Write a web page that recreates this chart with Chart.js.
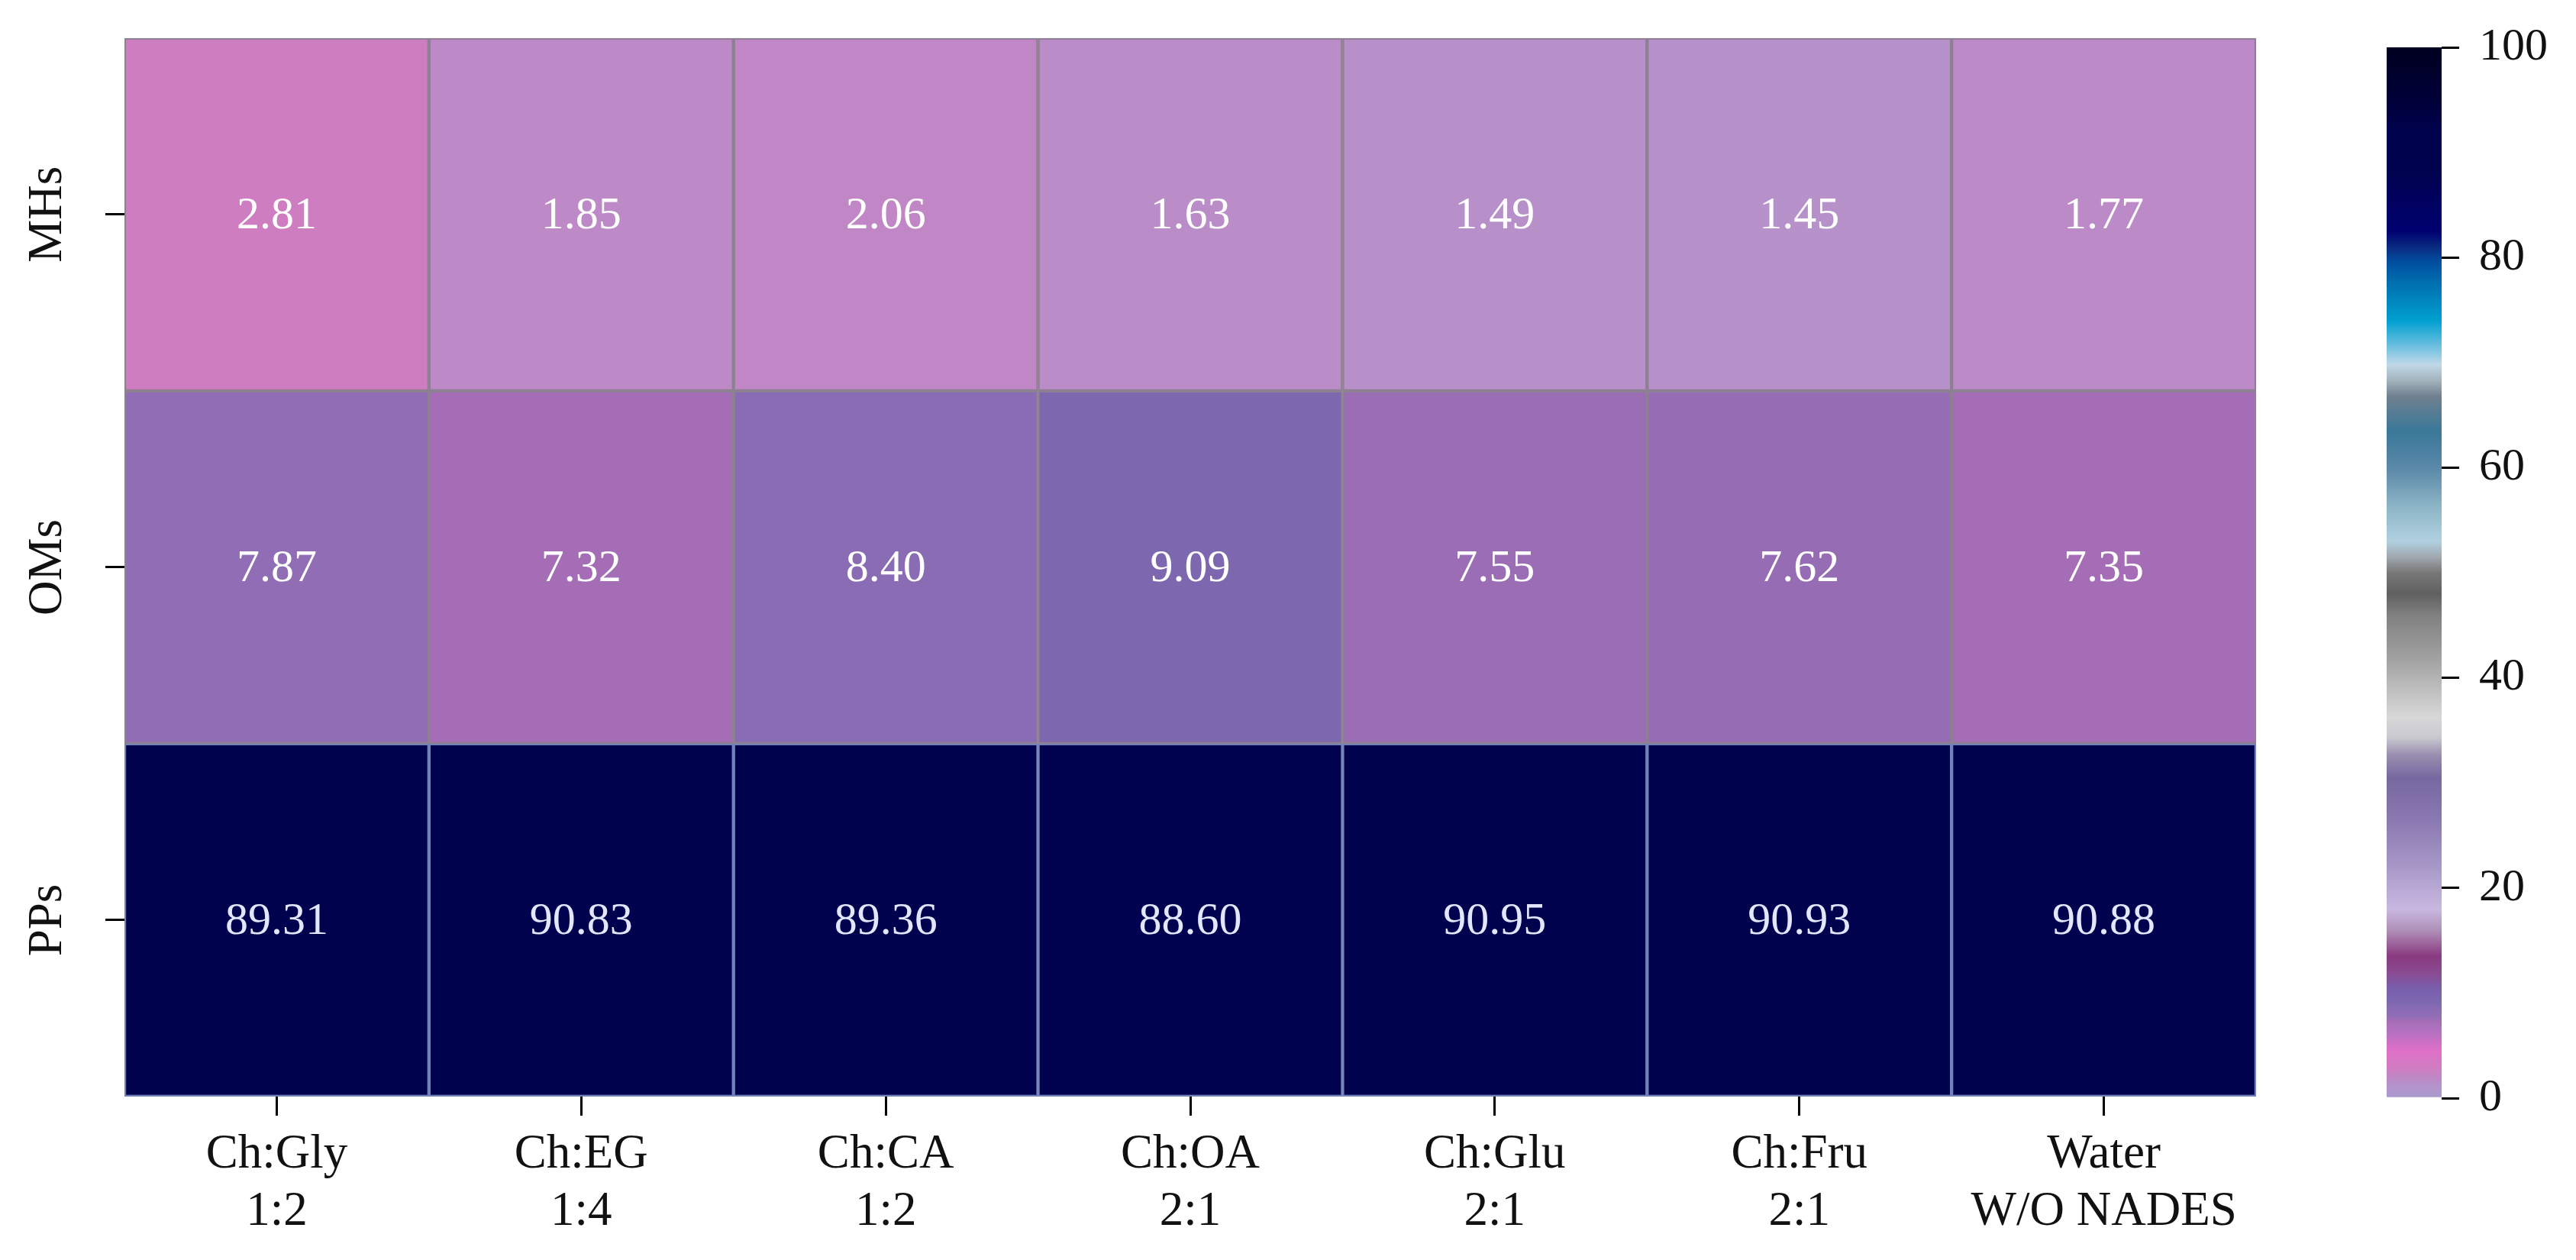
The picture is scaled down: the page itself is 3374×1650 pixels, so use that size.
<!DOCTYPE html>
<html>
<head>
<meta charset="utf-8">
<script src="https://cdn.jsdelivr.net/npm/chart.js@4.4.1/dist/chart.umd.min.js"></script>
<style>
  html, body { margin: 0; padding: 0; background: #fff; }
  #wrap { position: relative; width: 3374px; height: 1650px; overflow: hidden; }
  #heat { position: absolute; left: 0; top: 0; }
  #cbar { position: absolute; left: 3126px; top: 0; }
</style>
</head>
<body>
<div id="wrap">
  <canvas id="heat" width="3000" height="1650"></canvas>
  <canvas id="cbar" width="248" height="1650"></canvas>
</div>
<script>
// data
const columnLabels = [
  ['Ch:Gly', '1:2'], ['Ch:EG', '1:4'], ['Ch:CA', '1:2'], ['Ch:OA', '2:1'],
  ['Ch:Glu', '2:1'], ['Ch:Fru', '2:1'], ['Water', 'W/O NADES']
];
const rowLabels = ['MHs', 'OMs', 'PPs'];
const mhsValues = [2.81, 1.85, 2.06, 1.63, 1.49, 1.45, 1.77];
const omsValues = [7.87, 7.32, 8.40, 9.09, 7.55, 7.62, 7.35];
const ppsValues = [89.31, 90.83, 89.36, 88.60, 90.95, 90.93, 90.88];
const cbarTicks = [0, 20, 40, 60, 80, 100];

const rows = [mhsValues, omsValues, ppsValues];
const serif = '"Liberation Serif", "Times New Roman", serif';

// colour map (value -> colour) approximating the one in the figure
const cmapStops = [
  [0, '#a99bd0'], [1.45, '#b791c9'], [1.8, '#bc89c7'], [2.1, '#c286c5'],
  [2.8, '#cf7dc1'], [4.5, '#e070c8'], [6.5, '#b070c0'], [7.3, '#a66db6'],
  [7.6, '#976db5'], [7.9, '#8f6db5'], [8.4, '#8a6cb5'], [9.1, '#7d68b0'],
  [10.5, '#7a5eac'], [12, '#8a4a90'], [13.5, '#8a3a80'], [16, '#b090b8'],
  [18, '#c8b8e0'], [22, '#a898c8'], [26.5, '#8a78b0'], [30.5, '#7868a0'],
  [32.7, '#9a8fb0'], [34.3, '#c8c8d0'], [36.2, '#d8d8d8'], [42, '#a0a0a0'],
  [46, '#808080'], [48, '#606060'], [50, '#787878'], [51.5, '#a0a8b0'],
  [53, '#b0d0e0'], [56, '#90b8c8'], [60, '#5a88a8'], [63.5, '#3a7898'],
  [66.8, '#708090'], [68.2, '#a0b0b8'], [69.8, '#c0d8e8'], [71.5, '#70c0e0'],
  [74, '#00a0d0'], [77.5, '#0070b0'], [79.5, '#0050a0'], [81, '#0a2a80'],
  [82.5, '#000070'], [88, '#01024f'], [92, '#01024d'], [95, '#000038'], [100, '#000020']
];

const hexRgb = h => [1, 3, 5].map(i => parseInt(h.slice(i, i + 2), 16));

const cmap = v => {
  for (let i = 1; i < cmapStops.length; i++) {
    const [v1, c1] = cmapStops[i];
    const [v0, c0] = cmapStops[i - 1];
    if (v <= v1) {
      const t = (v - v0) / (v1 - v0);
      const a = hexRgb(c0), b = hexRgb(c1);
      const m = a.map((x, k) => Math.round(x + (b[k] - x) * t));
      return 'rgb(' + m.join(',') + ')';
    }
  }
  return cmapStops[cmapStops.length - 1][1];
};

const cellText = {
  id: 'cellText',
  afterDatasetsDraw(chart) {
    const ctx = chart.ctx;
    ctx.save();
    ctx.font = '60px ' + serif;
    ctx.textAlign = 'center';
    ctx.textBaseline = 'middle';
    chart.data.datasets.forEach((ds, r) => {
      chart.getDatasetMeta(r).data.forEach((bar, c) => {
        const p = bar.getCenterPoint();
        ctx.fillStyle = r === 2 ? '#e2e7ff' : '#ffffff';
        ctx.fillText(rows[r][c].toFixed(2), p.x, p.y + 2);
      });
    });
    ctx.restore();
  }
};

const Chart_heat = () => {
  new Chart(document.getElementById('heat'), {
    type: 'bar',
    data: {
      labels: columnLabels,
      datasets: rows.map((vals, r) => ({
        label: rowLabels[r],
        data: vals.map(() => [r, r + 1]),
        backgroundColor: vals.map(cmap),
        borderColor: r === 2 ? '#7282b8' : '#8c8092',
        borderWidth: 2.5,
        borderSkipped: false,
        grouped: false,
        barPercentage: 1,
        categoryPercentage: 1
      }))
    },
    options: {
      responsive: false,
      animation: false,
      devicePixelRatio: 1,
      layout: { padding: { top: 49, right: 45, left: 0, bottom: 0 } },
      plugins: { legend: { display: false }, tooltip: { enabled: false } },
      scales: {
        x: {
          type: 'category',
          offset: true,
          border: { display: false },
          grid: { display: true, offset: false, drawOnChartArea: false, drawTicks: true, tickLength: 25, color: '#000', lineWidth: 3 },
          ticks: { color: '#111', font: { family: serif, size: 63, lineHeight: 1.19 }, padding: 14, maxRotation: 0, minRotation: 0 },
          afterFit: s => { s.height = 214; }
        },
        y: {
          type: 'linear',
          min: 0,
          max: 3,
          reverse: true,
          border: { display: false },
          afterBuildTicks: s => { s.ticks = rowLabels.map((_, i) => ({ value: i + 0.5 })); },
          grid: { display: true, drawOnChartArea: false, drawTicks: true, tickLength: 25, color: '#000', lineWidth: 3 },
          ticks: {
            color: '#111',
            font: { family: serif, size: 63 },
            minRotation: 90,
            maxRotation: 90,
            crossAlign: 'center',
            padding: 12,
            callback: (v, i) => rowLabels[i]
          },
          afterFit: s => { s.width = 163; }
        }
      }
    },
    plugins: [cellText]
  });
};

const Chart_cbar = () => {
  new Chart(document.getElementById('cbar'), {
    type: 'bar',
    data: {
      labels: [''],
      datasets: [{
        data: [[0, 100]],
        barPercentage: 1,
        categoryPercentage: 1,
        borderWidth: 0,
        backgroundColor: context => {
          const chart = context.chart;
          const y = chart.scales.y;
          if (!chart.chartArea || !y) return '#888';
          const g = chart.ctx.createLinearGradient(0, y.getPixelForValue(0), 0, y.getPixelForValue(100));
          cmapStops.forEach(([v, c]) => g.addColorStop(v / 100, c));
          return g;
        }
      }]
    },
    options: {
      responsive: false,
      animation: false,
      devicePixelRatio: 1,
      layout: { padding: { top: 49, bottom: 212, left: 0, right: 0 } },
      plugins: { legend: { display: false }, tooltip: { enabled: false } },
      scales: {
        x: { display: false },
        y: {
          position: 'right',
          min: 0,
          max: 100,
          border: { display: false },
          afterBuildTicks: s => { s.ticks = cbarTicks.map(v => ({ value: v })); },
          grid: { display: true, drawOnChartArea: false, drawTicks: true, tickLength: 23, color: '#000', lineWidth: 3 },
          ticks: { color: '#111', font: { family: serif, size: 60 }, padding: 26 },
          afterFit: s => { s.width = 176; }
        }
      }
    }
  });
};

Chart_heat();
Chart_cbar();
</script>
</body>
</html>
